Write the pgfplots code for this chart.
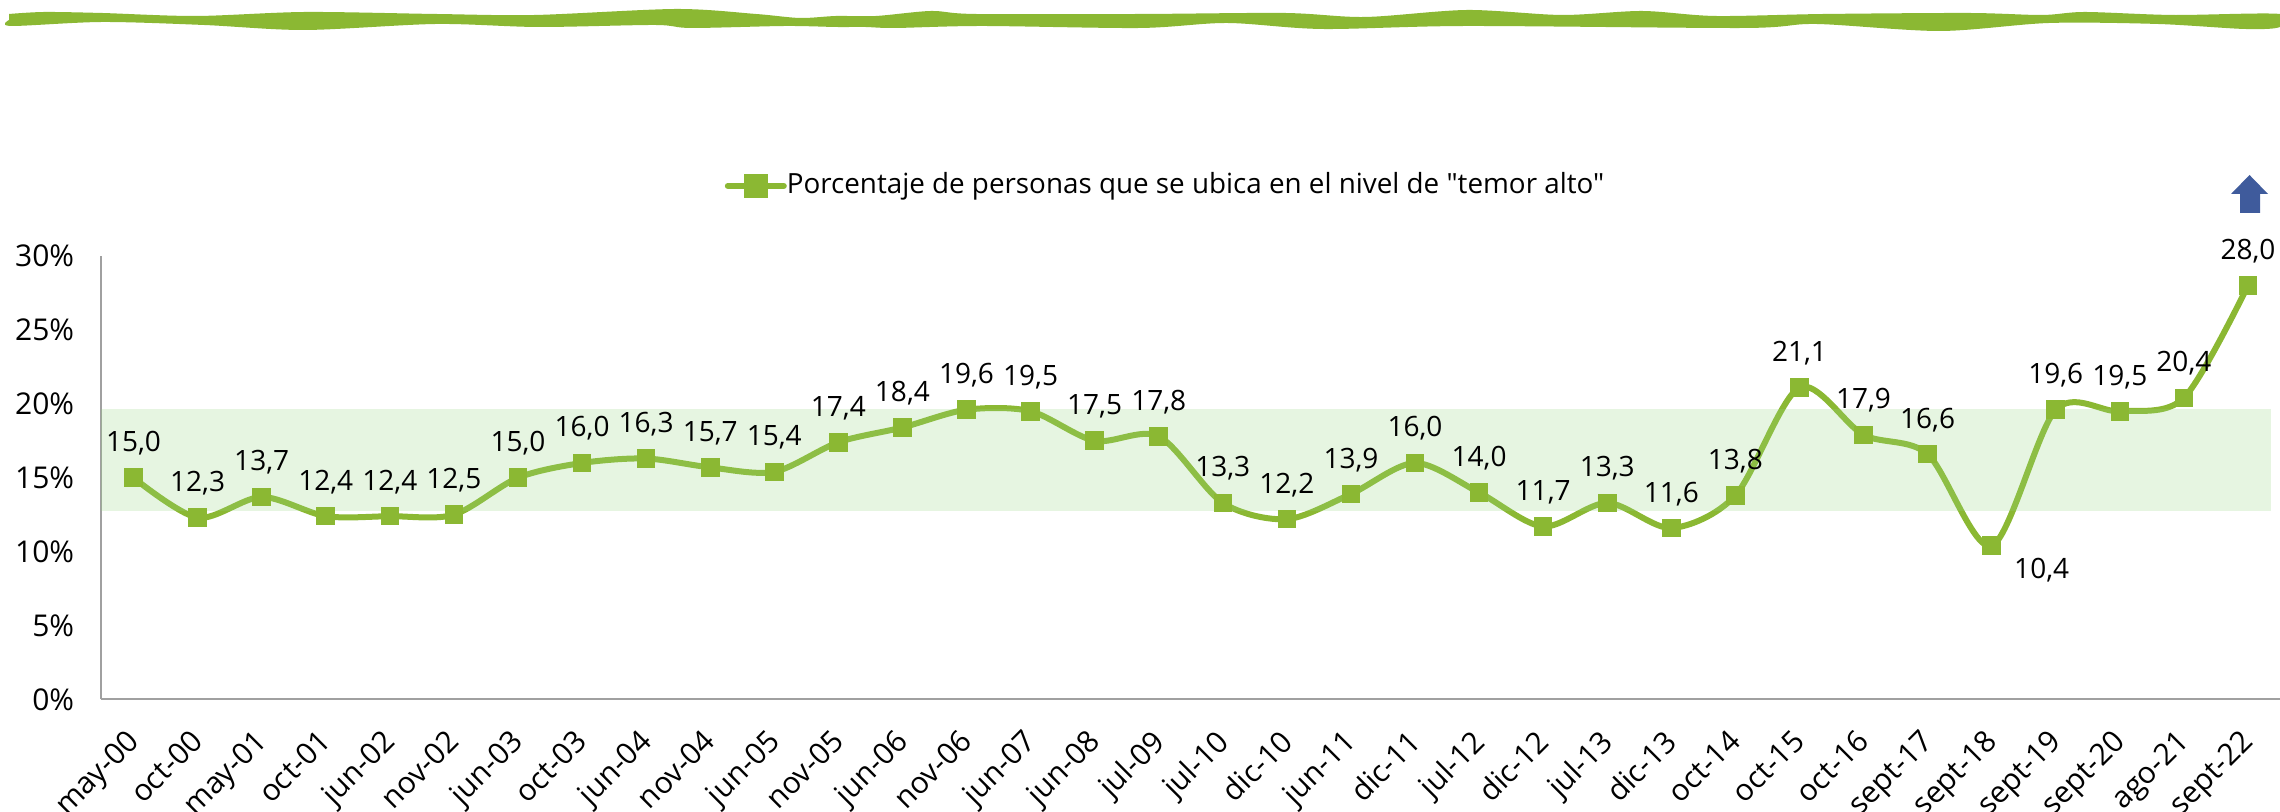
\documentclass[border=0pt]{standalone}
\usepackage{pgfplots}
\pgfplotsset{compat=1.18}
\usepackage{fontspec}
\setmainfont{Open Sans}
\newfontfamily\plainf{Open Sans}
\definecolor{gl}{RGB}{139,184,51}
\definecolor{ax}{RGB}{160,160,160}
\definecolor{bandc}{RGB}{150,212,128}
\definecolor{arr}{RGB}{63,91,156}
\begin{document}
\begin{tikzpicture}[x=0.25pt,y=0.25pt]
\useasboundingbox (0,0) rectangle (2280,812);
% wavy rule at the top
\begin{scope}[yshift=203pt,yscale=-1]
\fill[gl] plot[smooth,tension=0.5] coordinates {(9,14)(44,12)(102,13)(196,16)(305,12)(436,14)(535,15)(676,9)(756,14)(800,18)(836,16)(876,16)(931,11)(975,14)(1140,14)(1285,13)(1365,17)(1467,10)(1562,15)(1642,11)(1715,16)(1824,14)(1969,13)(2042,15)(2085,12)(2173,15)(2280,14)
(2280,27)(2245,29)(2158,24)(2049,23)(1940,31)(1816,24)(1744,28)(1467,26)(1322,29)(1227,23)(1140,28)(982,26)(895,28)(865,27)(836,27)(785,26)(691,28)(655,25)(538,27)(436,24)(305,30)(204,25)(102,22)(11,26)(9,20)} -- cycle;
\end{scope}
% arrow
\fill[arr] (2231,618)--(2249.5,637)--(2268,618)--(2260,618)--(2260,599)--(2240,599)--(2240,618)--cycle;
\begin{axis}[
  at={(25.375pt,28.125pt)},anchor=south west,
  scale only axis,width=544.625pt,height=110.875pt,
  xmin=-0.5,xmax=33.5,ymin=0,ymax=30,
  axis lines=left,axis line style={ax,line width=0.5pt,-},
  clip=false,
  ytick={0,5,10,15,20,25,30},
  yticklabels={0\%,5\%,10\%,15\%,20\%,25\%,30\%},
  xtick={0,...,33},
  xticklabels={may-00,oct-00,may-01,oct-01,jun-02,nov-02,jun-03,oct-03,jun-04,nov-04,jun-05,nov-05,jun-06,nov-06,jun-07,jun-08,jul-09,jul-10,dic-10,jun-11,dic-11,jul-12,dic-12,jul-13,dic-13,oct-14,oct-15,oct-16,sept-17,sept-18,sept-19,sept-20,ago-21,sept-22},
  major tick length=0pt,
  tick label style={font=\fontsize{7.5}{8}\selectfont,black},
  xticklabel style={rotate=45,anchor=north east,xshift=-3pt,yshift=0pt},
  yticklabel style={xshift=-3.3pt},
  legend style={at={(0.4898,1.158)},anchor=center,draw=none,fill=none,font=\fontsize{6.95}{8}\selectfont,inner sep=0pt},
  legend cell align=left,
  legend image code/.code={
    \draw[gl,line width=1.5pt,line cap=round] (-0.1pt,0pt)--(13.9pt,0pt);
    \fill[gl] (4.6pt,-2.2pt) rectangle (9.2pt,2.2pt);
  },
]
\addplot[gl,line width=1.5pt,smooth,tension=0.5,
  mark=square*,mark size=2.2pt,mark options={solid,fill=gl,draw=gl,line width=0pt},
  visualization depends on={value \thisrow{dx} \as \dxv},
  visualization depends on={value \thisrow{dy} \as \dyv},
  nodes near coords,
  point meta=explicit symbolic,
  every node near coord/.style={anchor=base,black,font=\fontsize{7}{8}\selectfont,inner sep=0pt,xshift=\dxv*0.25pt,yshift=\dyv*0.25pt},
] table[x=x,y=y,meta=lab,col sep=space]{
x y lab dx dy
0 15.0 {15,0} 0 26
1 12.3 {12,3} 0 26
2 13.7 {13,7} 0 26
3 12.4 {12,4} 0 26
4 12.4 {12,4} 0 26
5 12.5 {12,5} 0 26
6 15.0 {15,0} 0 26
7 16.0 {16,0} 0 26
8 16.3 {16,3} 0 26
9 15.7 {15,7} 0 26
10 15.4 {15,4} 0 26
11 17.4 {17,4} 0 26
12 18.4 {18,4} 0 26
13 19.6 {19,6} 0 26
14 19.5 {19,5} 0 26
15 17.5 {17,5} 0 26
16 17.8 {17,8} 0 26
17 13.3 {13,3} 0 26
18 12.2 {12,2} 0 26
19 13.9 {13,9} 0 26
20 16.0 {16,0} 0 26
21 14.0 {14,0} 0 26
22 11.7 {11,7} 0 26
23 13.3 {13,3} 0 26
24 11.6 {11,6} 0 26
25 13.8 {13,8} 0 26
26 21.1 {21,1} 0 26
27 17.9 {17,9} 0 26
28 16.6 {16,6} 0 26
29 10.4 {10,4} 50 -33
30 19.6 {19,6} 0 26
31 19.5 {19,5} 0 26
32 20.4 {20,4} 0 26
33 28.0 {28,0} 0 26
};
\addlegendentry{\hspace*{-2pt}\plainf Porcentaje de personas que se ubica en el nivel de "temor alto"}
\addplot[draw=none,fill=bandc,fill opacity=0.235,forget plot] coordinates {(-0.5,12.77)(33.36,12.77)(33.36,19.65)(-0.5,19.65)} -- cycle;
\end{axis}
\end{tikzpicture}
\end{document}
